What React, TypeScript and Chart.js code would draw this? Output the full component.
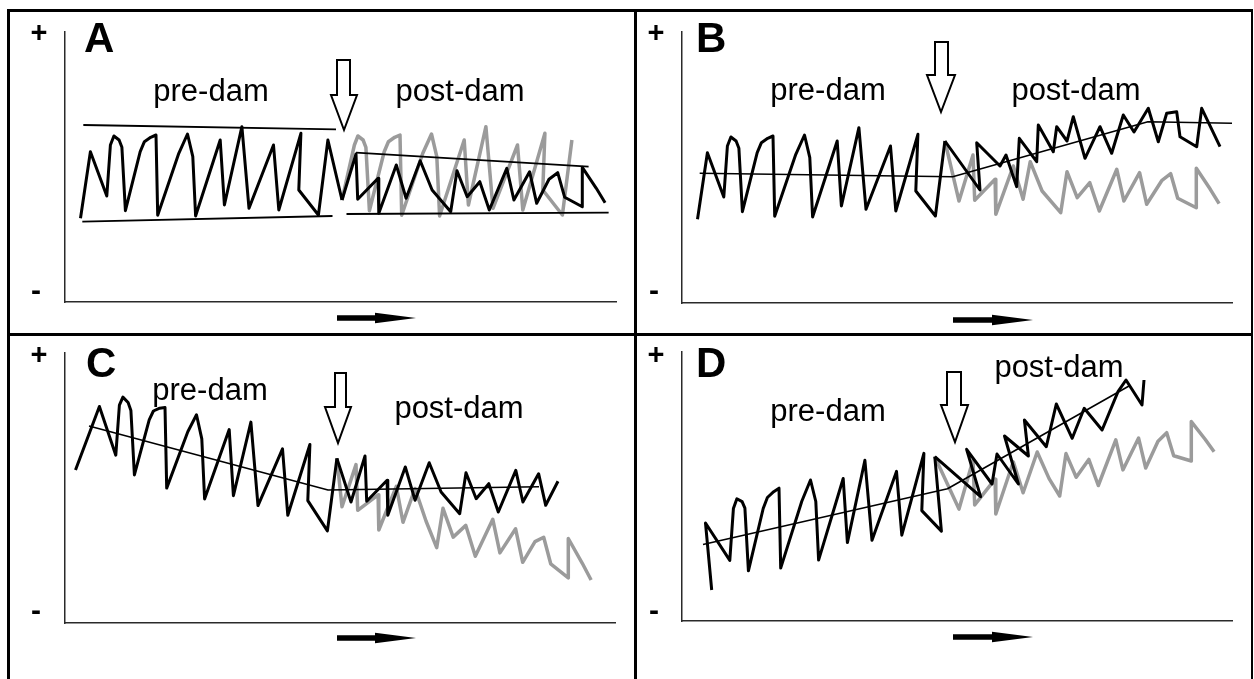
import React, { useEffect, useRef } from 'react';
import { Chart, registerables } from 'chart.js';

Chart.register(...registerables);

type Pt = [number, number];

// ---------- Panel A ----------
const aPre: Pt[] = [
  [15.5, 83.7], [25.4, 150.3], [41.8, 106], [45.4, 157], [48.9, 166], [54.1, 162], [56.9, 154.7], [60.4, 91.3],
  [75.2, 150.3], [79.4, 160.3], [85.7, 164.7], [91, 167], [92.7, 86.7], [113.8, 148.7], [122.5, 168], [127.8, 145.3],
  [130.6, 86], [155.2, 162], [159.4, 97], [176.9, 175.3], [184, 93.7], [208.5, 157], [213.8, 92], [235.9, 168.7],
  [233.8, 112], [253.4, 87], [262.9, 162], [277, 102],
];
const aPost: Pt[] = [
  [277, 102], [291, 148], [292.7, 102.7], [313.1, 123.7], [313.8, 88.7], [331.3, 137], [341.1, 103.7], [355.2, 141.3],
  [367.1, 112], [385.7, 90.3], [392, 131.3], [402.2, 105.3], [414.8, 120.3], [424.3, 92], [441.8, 133.7], [448.9, 102],
  [464.6, 130.3], [471.7, 98.7], [484, 122.7], [492.7, 129.3], [499.7, 104.7], [517.3, 95.3], [517.3, 134.7],
  [531.3, 113.7], [540.1, 99.3],
];
const aNatural: Pt[] = [
  [277, 102], [289.4, 157], [292.9, 166], [298.1, 162], [300.9, 154.7], [304.4, 91.3], [319.2, 150.3], [323.4, 160.3],
  [329.7, 164.7], [335, 167], [336.7, 86.7], [357.8, 148.7], [366.5, 168], [371.8, 145.3], [374.6, 86], [399.2, 162],
  [403.4, 97], [420.9, 175.3], [428, 93.7], [452.5, 157], [457.8, 92], [479.9, 168.7], [477.8, 112], [497.4, 87],
  [506.9, 162],
];
const aPreUpper: Pt[] = [[18.3, 177], [271, 172.7]];
const aPreLower: Pt[] = [[17.3, 80.3], [267.5, 86]];
const aPostUpper: Pt[] = [[291, 149.3], [523.6, 135.3]];
const aPostLower: Pt[] = [[281.5, 88], [543.6, 89.3]];

// ---------- Panel B ----------
const bPre: Pt[] = [
  [15.5, 83.7], [25.4, 150.3], [41.8, 106], [45.4, 157], [48.9, 166], [54.1, 162], [56.9, 154.7], [60.4, 91.3],
  [75.2, 150.3], [79.4, 160.3], [85.7, 164.7], [91, 167], [92.7, 86.7], [113.8, 148.7], [122.5, 168], [127.8, 145.3],
  [130.6, 86], [155.2, 162], [159.4, 97], [176.9, 175.3], [184, 93.7], [208.5, 157], [213.8, 92], [235.9, 168.7],
  [233.8, 112], [253.4, 87], [262.9, 162],
];
const bPost: Pt[] = [
  [262.9, 162], [298, 113], [294.7, 160.3], [318, 137], [324, 148], [334.7, 116.3], [337.3, 164.7], [354.7, 141.3],
  [356.3, 178], [371.3, 151.3], [374.7, 176.3], [385, 162], [391.3, 186.3], [403, 144.7], [418, 176.3],
  [429.7, 149.7], [441.3, 188], [452, 171], [466.3, 194.7], [476.3, 161.3], [484.7, 189.7], [494.7, 191.3],
  [498, 166.3], [514.7, 156.3], [519.7, 194.7], [538, 156.3],
];
const bNatural: Pt[] = [
  [262.9, 162], [277, 102], [291, 148], [292.7, 102.7], [313.1, 123.7], [313.8, 88.7], [331.3, 137], [341.1, 103.7],
  [348.2, 141.3], [360.1, 112], [378.7, 90.3], [385, 131.3], [395.2, 105.3], [407.8, 120.3], [417.3, 92],
  [434.8, 133.7], [441.9, 102], [457.6, 130.3], [464.7, 98.7], [480, 122.7], [488.7, 129.3], [495.7, 104.7],
  [514.3, 95.3], [514.3, 134.7], [528.3, 113.7], [537.1, 99.3],
];
const bTrend: Pt[] = [[17.7, 129.7], [270.7, 126.3], [465.9, 181.3], [550, 179.8]];

// ---------- Panel C ----------
const cPre: Pt[] = [
  [10.5, 153], [34.4, 216.5], [50.8, 167.8], [54.4, 217.9], [57.9, 225.9], [63.1, 220.5], [65.9, 212.5], [69.4, 148.1],
  [84.2, 203.2], [88.4, 212], [94.7, 214.8], [100, 215.6], [101.7, 134.9], [122.8, 191.2], [131.5, 208.2],
  [136.8, 184.1], [139.6, 124], [164.2, 193.4], [168.4, 127.3], [185.9, 200.9], [193, 117.4], [217.5, 174.1],
  [222.8, 107.7], [244.9, 178.5], [242.8, 122.4], [262.4, 92.1], [271.9, 164.6],
];
const cPost: Pt[] = [
  [271.9, 164.6], [286, 121], [300, 167], [301.7, 121.7], [322.1, 142.7], [322.8, 107.7], [340.3, 156],
  [350.1, 122.7], [364.2, 160.3], [376.1, 131], [394.7, 109.3], [401, 150.3], [411.2, 124.3], [423.8, 139.3],
  [433.3, 111], [450.8, 152.7], [457.9, 121], [473.6, 149.3], [480.7, 117.7], [493, 141.7],
];
const cNatural: Pt[] = [
  [271.9, 164.6], [277, 116.2], [291, 158.4], [292.7, 112.7], [313.1, 128.2], [313.8, 93], [331.3, 136.6],
  [338, 100.7], [350, 134.5], [361, 102], [371.7, 75.4], [378, 114.7], [388.2, 85.9], [400.8, 97.6], [410.3, 66.7],
  [427.8, 103.7], [434.9, 70.1], [450.6, 94.2], [457.7, 60.7], [470, 81.4], [478.7, 85.7], [485.7, 59.2],
  [503.3, 45.1], [503.3, 84.5], [517.3, 59.7], [526.1, 43],
];
const cTrend: Pt[] = [[24, 197], [263, 133], [474, 136.3]];

// ---------- Panel D ----------
const dPre: Pt[] = [
  [29.7, 31], [23.5, 98], [47.8, 60.6], [51.4, 112.4], [54.9, 122.2], [60.1, 119.4], [62.9, 112.8], [66.4, 50.2],
  [81.2, 112.5], [85.4, 123.5], [91.7, 129.3], [97, 132.8], [98.7, 52.9], [119.8, 119.7], [128.5, 141],
  [133.8, 119.5], [136.6, 60.9], [161.2, 142.5], [165.4, 78.4], [182.9, 160.7], [190, 80.7], [214.5, 149.6],
  [219.8, 85.8], [241.9, 167.6], [239.8, 110.4], [259.4, 89.9], [252.8, 164.3],
];
const dPost: Pt[] = [
  [252.8, 164.3], [298.6, 124.3], [284.6, 171.7], [310, 137], [315, 167], [336.4, 137], [322.5, 185],
  [346.4, 165], [342.4, 201], [364.3, 174.3], [374.3, 217], [390.2, 182.7], [402.2, 212.7], [420.1, 191],
  [436, 229.3], [444, 241], [460, 216], [462, 241],
];
const dNatural: Pt[] = [
  [252.8, 164.3], [277, 111.9], [291, 161.1], [292.7, 116.1], [313.1, 141.8], [313.8, 107], [331.3, 159.2],
  [341.1, 128.2], [355.2, 169], [367.1, 142.4], [377.7, 125], [384, 167.4], [394.2, 143.7], [406.8, 161.6],
  [416.3, 135.5], [433.8, 181.1], [440.9, 151.1], [456.6, 182.9], [463.7, 153], [476, 179.8], [484.7, 188.3],
  [491.7, 165.3], [509.3, 160], [509.3, 199.4], [523.3, 181.5], [532.1, 169.2],
];
const dTrend: Pt[] = [[21, 76.5], [265.5, 132.2], [447, 235]];

const panelLetters = ['A', 'B', 'C', 'D'];
const phaseLabels = ['pre-dam', 'post-dam'];
const axisSigns = ['+', '-'];

// ---------- styles & layout ----------
const W = 1254;
const H = 679;
const BLACK = '#000000';
const GRAY = '#9b9b9b';
const FONT = '"Liberation Sans", Arial, Helvetica, sans-serif';

type Series = { data: Pt[]; color: string; width: number; order: number };
type PanelCfg = {
  letter: string;
  axis: { left: number; top: number; right: number; bottom: number };
  series: Series[];
  letterPos: [number, number];
  prePos: [number, number];
  postPos: [number, number];
  plusPos: [number, number];
  minusPos: [number, number];
  hollow: { sl: number; sr: number; top: number; sh: number; hl: number; hr: number; tx: number; ty: number };
  flow: { x0: number; x1: number; y: number };
};

const panels: PanelCfg[] = [
  {
    letter: panelLetters[0],
    axis: { left: 65, top: 32, right: 616, bottom: 302 },
    series: [
      { data: aNatural, color: GRAY, width: 3.5, order: 5 },
      { data: aPre, color: BLACK, width: 3, order: 3 },
      { data: aPost, color: BLACK, width: 3, order: 2 },
      { data: aPreUpper, color: BLACK, width: 1.8, order: 1 },
      { data: aPreLower, color: BLACK, width: 1.8, order: 1 },
      { data: aPostUpper, color: BLACK, width: 1.8, order: 1 },
      { data: aPostLower, color: BLACK, width: 1.8, order: 1 },
    ],
    letterPos: [84, 52],
    prePos: [211, 101],
    postPos: [460, 101],
    plusPos: [39, 34],
    minusPos: [36, 292],
    hollow: { sl: 337, sr: 350, top: 60, sh: 95, hl: 331, hr: 357, tx: 344, ty: 130 },
    flow: { x0: 337, x1: 416, y: 318 },
  },
  {
    letter: panelLetters[1],
    axis: { left: 682, top: 32, right: 1232, bottom: 303 },
    series: [
      { data: bNatural, color: GRAY, width: 3.5, order: 5 },
      { data: bPre, color: BLACK, width: 3, order: 3 },
      { data: bPost, color: BLACK, width: 3, order: 2 },
      { data: bTrend, color: BLACK, width: 1.6, order: 1 },
    ],
    letterPos: [696, 52],
    prePos: [828, 100],
    postPos: [1076, 100],
    plusPos: [656, 34],
    minusPos: [654, 292],
    hollow: { sl: 935, sr: 948, top: 42, sh: 75, hl: 927, hr: 955, tx: 941, ty: 112 },
    flow: { x0: 953, x1: 1033, y: 320 },
  },
  {
    letter: panelLetters[2],
    axis: { left: 65, top: 353, right: 615, bottom: 623 },
    series: [
      { data: cNatural, color: GRAY, width: 3.5, order: 5 },
      { data: cPre, color: BLACK, width: 3, order: 3 },
      { data: cPost, color: BLACK, width: 3, order: 2 },
      { data: cTrend, color: BLACK, width: 1.6, order: 1 },
    ],
    letterPos: [86, 377],
    prePos: [210, 400],
    postPos: [459, 418],
    plusPos: [39, 356],
    minusPos: [36, 612],
    hollow: { sl: 335, sr: 346, top: 373, sh: 407, hl: 325, hr: 351, tx: 338, ty: 443 },
    flow: { x0: 337, x1: 416, y: 638 },
  },
  {
    letter: panelLetters[3],
    axis: { left: 682, top: 352, right: 1232, bottom: 621 },
    series: [
      { data: dNatural, color: GRAY, width: 3.5, order: 5 },
      { data: dPre, color: BLACK, width: 3, order: 3 },
      { data: dPost, color: BLACK, width: 3, order: 2 },
      { data: dTrend, color: BLACK, width: 1.6, order: 1 },
    ],
    letterPos: [696, 377],
    prePos: [828, 421],
    postPos: [1059, 377],
    plusPos: [656, 356],
    minusPos: [654, 612],
    hollow: { sl: 947, sr: 961, top: 372, sh: 405, hl: 941, hr: 968, tx: 955, ty: 442 },
    flow: { x0: 953, x1: 1033, y: 637 },
  },
];

const decorPlugin = {
  id: 'panelDecor',
  afterDraw(chart: any, _args: any, opts: any) {
    const p: PanelCfg = opts.panel;
    if (!p) return;
    const ctx: CanvasRenderingContext2D = chart.ctx;
    ctx.save();
    ctx.fillStyle = '#000';
    // panel letter
    ctx.font = `bold 42px ${FONT}`;
    ctx.textAlign = 'left';
    ctx.textBaseline = 'alphabetic';
    ctx.fillText(p.letter, p.letterPos[0], p.letterPos[1]);
    // phase labels
    ctx.font = `31px ${FONT}`;
    ctx.textAlign = 'center';
    ctx.fillText(phaseLabels[0], p.prePos[0], p.prePos[1]);
    ctx.fillText(phaseLabels[1], p.postPos[0], p.postPos[1]);
    // axis signs
    ctx.font = `bold 29px ${FONT}`;
    ctx.textBaseline = 'middle';
    ctx.fillText(axisSigns[0], p.plusPos[0], p.plusPos[1]);
    ctx.font = `bold 30px ${FONT}`;
    ctx.fillText(axisSigns[1], p.minusPos[0], p.minusPos[1]);
    // hollow dam arrow
    const h = p.hollow;
    ctx.beginPath();
    ctx.moveTo(h.sl, h.top);
    ctx.lineTo(h.sr, h.top);
    ctx.lineTo(h.sr, h.sh);
    ctx.lineTo(h.hr, h.sh);
    ctx.lineTo(h.tx, h.ty);
    ctx.lineTo(h.hl, h.sh);
    ctx.lineTo(h.sl, h.sh);
    ctx.closePath();
    ctx.fillStyle = '#fff';
    ctx.fill();
    ctx.lineWidth = 2;
    ctx.strokeStyle = '#000';
    ctx.lineJoin = 'miter';
    ctx.stroke();
    // time-direction arrow
    const f = p.flow;
    const headStart = f.x1 - 41;
    ctx.beginPath();
    ctx.moveTo(f.x0, f.y - 2.8);
    ctx.lineTo(headStart, f.y - 2.8);
    ctx.lineTo(headStart, f.y - 5.3);
    ctx.lineTo(f.x1, f.y);
    ctx.lineTo(headStart, f.y + 5.3);
    ctx.lineTo(headStart, f.y + 2.8);
    ctx.lineTo(f.x0, f.y + 2.8);
    ctx.closePath();
    ctx.fillStyle = '#000';
    ctx.fill();
    ctx.restore();
  },
};

function PanelChart({ panel }: { panel: PanelCfg }) {
  const ref = useRef<HTMLCanvasElement | null>(null);
  useEffect(() => {
    if (!ref.current) return;
    const a = panel.axis;
    const axisOpts = (max: number) => ({
      type: 'linear' as const,
      min: 0,
      max,
      display: true,
      grid: { display: false, drawTicks: false },
      ticks: { display: false },
      border: { display: true, color: '#2a2a2a', width: 1.5 },
    });
    const chart = new Chart(ref.current, {
      type: 'line',
      data: {
        datasets: panel.series.map((s) => ({
          data: s.data.map(([x, y]) => ({ x, y })),
          borderColor: s.color,
          borderWidth: s.width,
          pointRadius: 0,
          pointHoverRadius: 0,
          tension: 0,
          fill: false,
          order: s.order,
          borderJoinStyle: 'round' as const,
          borderCapStyle: 'butt' as const,
          clip: 10,
        })),
      },
      options: {
        responsive: false,
        maintainAspectRatio: false,
        animation: false,
        devicePixelRatio: 1,
        events: [],
        layout: {
          padding: { left: a.left, top: a.top, right: W - a.right, bottom: H - a.bottom },
        },
        plugins: {
          legend: { display: false },
          tooltip: { enabled: false },
          title: { display: false },
          panelDecor: { panel },
        } as any,
        scales: {
          x: axisOpts(a.right - a.left),
          y: axisOpts(a.bottom - a.top),
        },
      },
      plugins: [decorPlugin],
    });
    return () => chart.destroy();
  }, [panel]);
  return (
    <canvas
      ref={ref}
      width={W}
      height={H}
      style={{ position: 'absolute', left: 0, top: 0, width: W, height: H }}
    />
  );
}

const line = (left: number, top: number, width: number, height: number) => (
  <div style={{ position: 'absolute', left, top, width, height, background: '#000' }} />
);

export default function App() {
  return (
    <div style={{ position: 'fixed', left: 0, top: 0, width: W, height: H, background: '#fff', overflow: 'hidden' }}>
      {panels.map((p) => (
        <PanelChart key={p.letter} panel={p} />
      ))}
      {line(7, 9, 1246, 3)}
      {line(7, 9, 3, H - 9)}
      {line(1251, 9, 2, H - 9)}
      {line(634, 9, 3, H - 9)}
      {line(7, 333, 1246, 3)}
    </div>
  );
}
